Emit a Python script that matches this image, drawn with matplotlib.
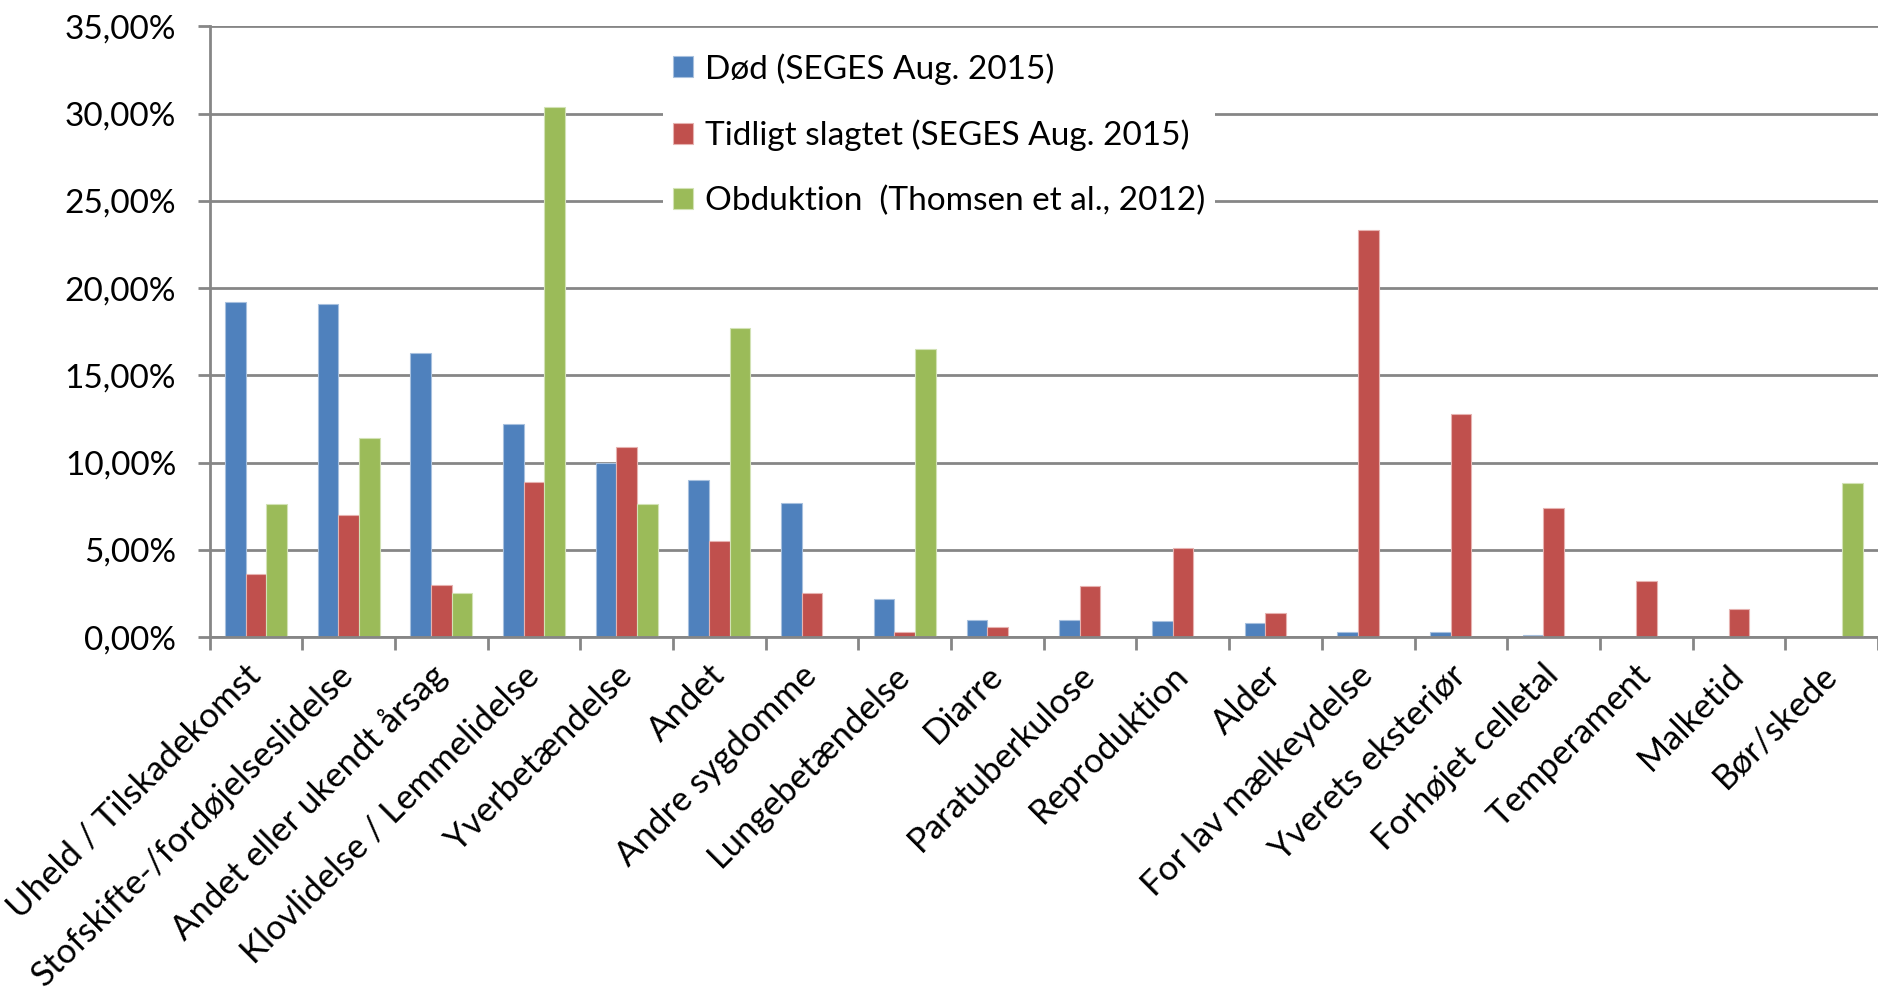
import matplotlib
matplotlib.use("Agg")
import matplotlib.pyplot as plt
import numpy as np
from matplotlib.ticker import FuncFormatter, MultipleLocator

plt.rcParams["font.family"] = ["Lato", "DejaVu Sans"]

categories = [
    "Uheld / Tilskadekomst",
    "Stofskifte-/fordøjelseslidelse",
    "Andet eller ukendt årsag",
    "Klovlidelse / Lemmelidelse",
    "Yverbetændelse",
    "Andet",
    "Andre sygdomme",
    "Lungebetændelse",
    "Diarre",
    "Paratuberkulose",
    "Reproduktion",
    "Alder",
    "For lav mælkeydelse",
    "Yverets eksteriør",
    "Forhøjet celletal",
    "Temperament",
    "Malketid",
    "Bør/skede",
]

# shares in percent
dod = [19.2, 19.1, 16.3, 12.2, 10.0, 9.0, 7.7, 2.2, 1.0, 1.0, 0.9, 0.8, 0.3, 0.3, 0.1, 0.0, 0.0, 0.0]
slagtet = [3.6, 7.0, 3.0, 8.9, 10.9, 5.5, 2.5, 0.3, 0.6, 2.9, 5.1, 1.4, 23.3, 12.8, 7.4, 3.2, 1.6, 0.0]
obduktion = [7.6, 11.4, 2.5, 30.4, 7.6, 17.7, 0.0, 16.5, 0.0, 0.0, 0.0, 0.0, 0.0, 0.0, 0.0, 0.0, 0.0, 8.8]

series = [
    ("Død (SEGES Aug. 2015)", dod, "#4F81BD", "#A7C0DE"),
    ("Tidligt slagtet (SEGES Aug. 2015)", slagtet, "#C0504D", "#E6B2B0"),
    ("Obduktion  (Thomsen et al., 2012)", obduktion, "#9BBB59", "#D2E2B5"),
]

fig = plt.figure(figsize=(18.78, 9.96), dpi=100)
ax = fig.add_axes([0.1116, 0.3604, 0.8884, 0.6132])

x = np.arange(len(categories))
w = 1 / 4.5
for i, (name, vals, color, edge) in enumerate(series):
    ax.bar(x + (i - 1) * w, vals, width=w, color=color, edgecolor=edge,
           linewidth=0.8, label=name, zorder=3)

grid_c = "#868686"
ax.set_xlim(-0.5, len(categories) - 0.5)
ax.set_ylim(0, 35)
ax.yaxis.set_major_locator(MultipleLocator(5))
ax.yaxis.set_major_formatter(FuncFormatter(lambda v, _: f"{v:.2f}".replace(".", ",") + "%"))
ax.grid(axis="y", color=grid_c, linewidth=2, zorder=0)
ax.set_axisbelow(True)

for s in ("top", "right"):
    ax.spines[s].set_visible(False)
for s in ("left", "bottom"):
    ax.spines[s].set_color(grid_c)
    ax.spines[s].set_linewidth(2)
    ax.spines[s].set_zorder(4)

ax.tick_params(axis="y", length=9, width=2, color=grid_c, labelsize=24, pad=15)
ax.set_xticks(np.arange(len(categories) + 1) - 0.5, minor=True)
ax.set_xticks(x)
ax.set_xticklabels(categories, rotation=45, ha="right", va="center",
                   rotation_mode="anchor", fontsize=25)
ax.tick_params(axis="x", which="major", length=0, pad=24)
ax.tick_params(axis="x", which="minor", length=9, width=2, color=grid_c)

leg = ax.legend(loc="upper left", bbox_to_anchor=(0.262, 1.0), fontsize=24,
                frameon=True, facecolor="white", edgecolor="none", framealpha=1,
                fancybox=False, handlelength=0.6, handleheight=0.6,
                handletextpad=0.35, labelspacing=1.05, borderpad=0.3)
leg.set_zorder(5)

fig.savefig("out.png", dpi=100, facecolor="white")
